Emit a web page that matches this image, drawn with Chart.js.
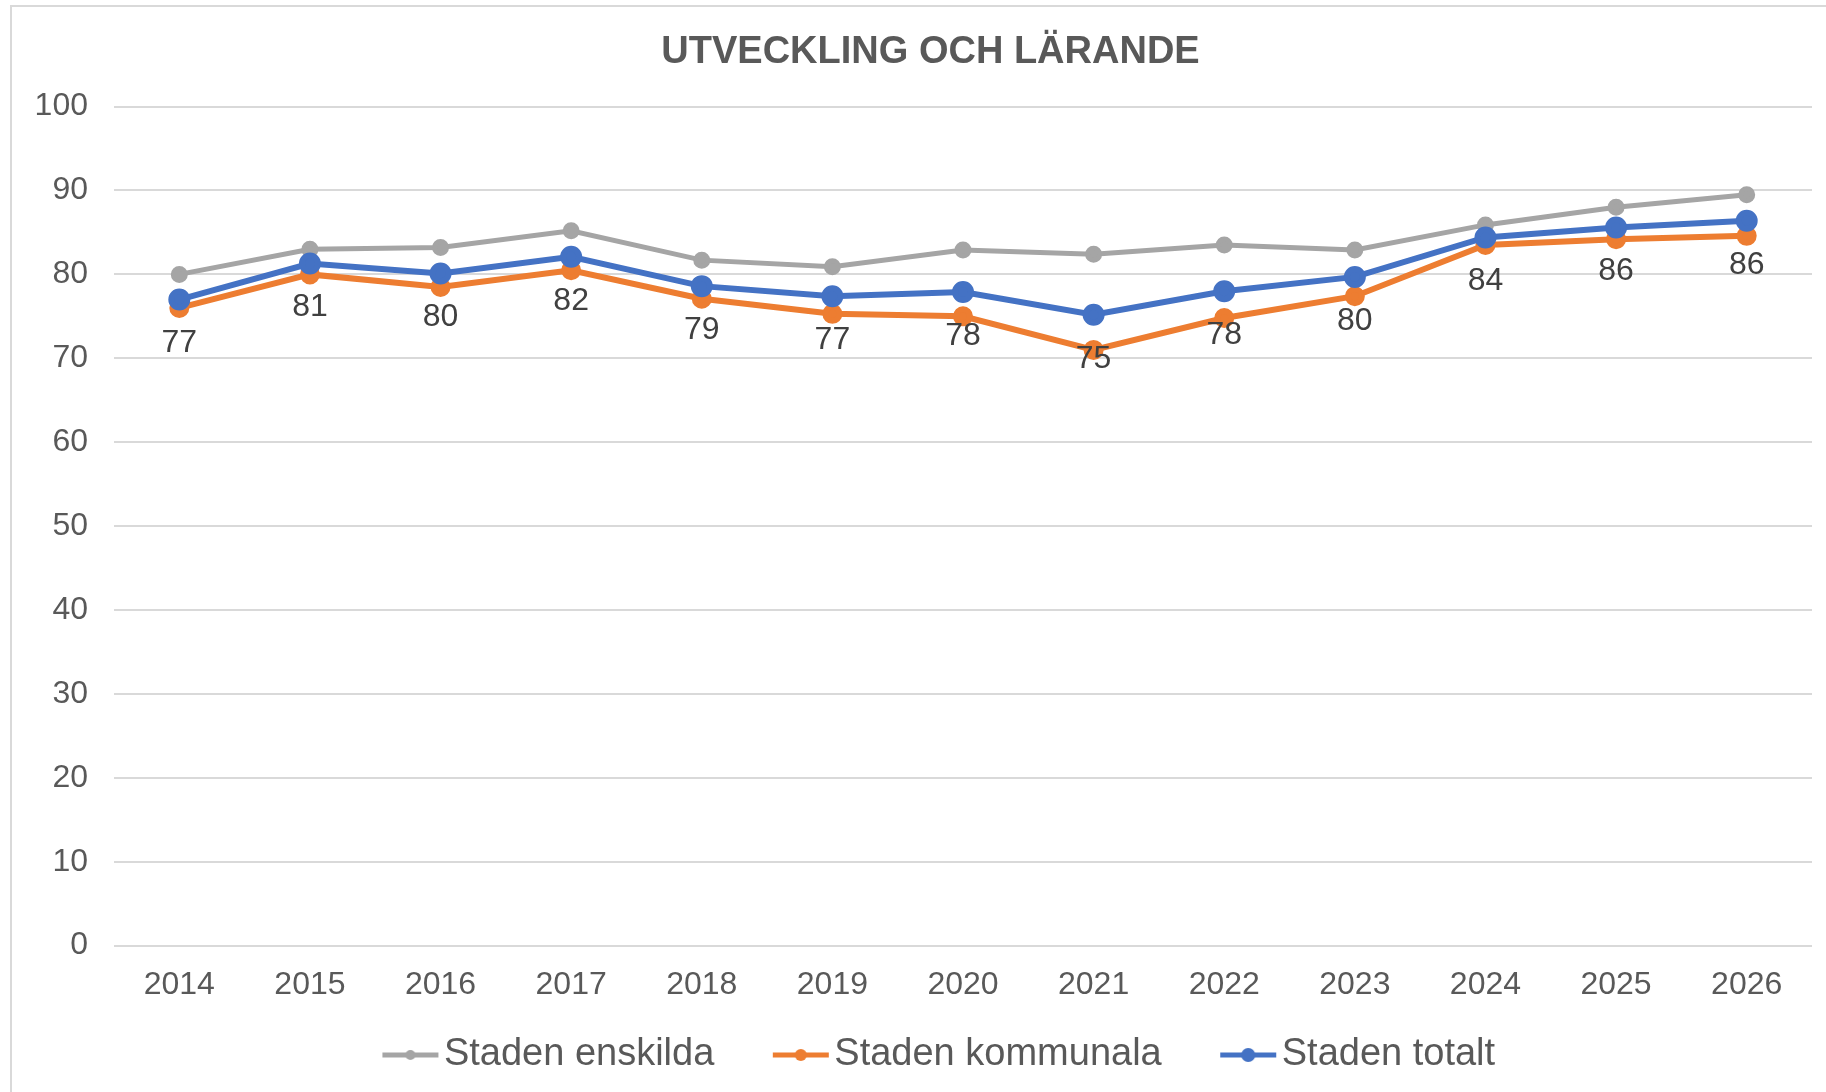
<!DOCTYPE html>
<html>
<head>
<meta charset="utf-8">
<title>Utveckling och lärande</title>
<script src="https://cdn.jsdelivr.net/npm/chart.js@4.4.1/dist/chart.umd.min.js"></script>
<style>
  body { margin:0; background:#fff; overflow:hidden; }
  #frame { position:absolute; left:10px; top:5px; width:1900px; height:1200px;
           border-left:2px solid #d9d9d9; border-top:2px solid #d9d9d9; }
  #chart-line { position:absolute; left:0; top:0; }
</style>
</head>
<body>
<div id="frame"></div>
<canvas id="chart-line" width="1826" height="1092"></canvas>
<script>
/*##########################################################
          Line chart - Utveckling och lärande
##########################################################*/

// Data
var years = ["2014","2015","2016","2017","2018","2019","2020","2021","2022","2023","2024","2025","2026"];
var enskilda   = [80.0, 83.0, 83.2, 85.2, 81.7, 80.9, 82.9, 82.4, 83.5, 82.9, 85.9, 88.0, 89.5];
var kommunala  = [76.0, 80.0, 78.5, 80.5, 77.1, 75.3, 75.0, 71.0, 74.8, 77.4, 83.5, 84.2, 84.6];
var totalt     = [77.0, 81.3, 80.1, 82.1, 78.6, 77.4, 77.9, 75.2, 78.0, 79.7, 84.4, 85.6, 86.4];
var yTicks     = [0, 10, 20, 30, 40, 50, 60, 70, 80, 90, 100];

var textColor = "#595959";
var fontName = "'Liberation Sans', Arial, sans-serif";

// legend marker: line with a dot in the middle (Excel style)
// image is 120 wide, centred on a 89 px legend box -> line sits just left of the text
function legendMarker(col, r){
  var c = document.createElement("canvas");
  c.width = 120; c.height = 20;
  var g = c.getContext("2d");
  g.strokeStyle = col; g.lineWidth = 5;
  g.beginPath(); g.moveTo(62, 10); g.lineTo(118, 10); g.stroke();
  g.fillStyle = col;
  g.beginPath(); g.arc(90, 10, r, 0, Math.PI*2); g.fill();
  return c;
}

// labels under the "Staden totalt" points
var totalLabels = {
  id: "totalLabels",
  afterLayout: function(chart){
    // title sits a bit right of centre in the original
    if (chart.titleBlock) chart.titleBlock.left += 30;
  },
  afterDatasetsDraw: function(chart){
    var meta = chart.getDatasetMeta(2);
    var ctx = chart.ctx;
    ctx.save();
    ctx.fillStyle = "#404040";
    ctx.font = "32px " + fontName;
    ctx.textAlign = "center";
    ctx.textBaseline = "middle";
    meta.data.forEach(function(pt, i){
      ctx.fillText(Math.round(totalt[i]), pt.x, pt.y + 44);
    });
    ctx.restore();
  }
};

var series = [
  { label: "Staden enskilda",  data: enskilda,  color: "#a5a5a5", width: 5, radius: 6, order: 2 },
  { label: "Staden kommunala", data: kommunala, color: "#ed7d31", width: 6, radius: 7, order: 1 },
  { label: "Staden totalt",    data: totalt,    color: "#4472c4", width: 6, radius: 8, order: 0 }
];

var htmlTag = document.getElementById("chart-line");
var configLine = {
  type: "line",
  data: {
    labels: years,
    datasets: series.map(function(s){
      return {
        label: s.label,
        data: s.data,
        borderColor: s.color,
        backgroundColor: s.color,
        borderWidth: s.width,
        pointRadius: s.radius,
        pointHoverRadius: s.radius,
        pointStyle: "circle",
        order: s.order,
        lineTension: 0
      };
    })
  },
  options: {
    responsive: false,
    animation: false,
    layout: { padding: { left: 12, right: 7, top: 4, bottom: 8 } },
    plugins: {
      title: {
        display: true,
        text: "UTVECKLING OCH LÄRANDE",
        color: textColor,
        font: { family: fontName, size: 38, weight: "bold" },
        padding: { top: 26, bottom: 31 }
      },
      legend: {
        position: "bottom",
        labels: {
          usePointStyle: true,
          pointStyleWidth: 89,
          boxHeight: 20,
          padding: 12,
          color: textColor,
          font: { family: fontName, size: 38 },
          generateLabels: function(chart){
            return series.map(function(s, i){
              return {
                text: s.label,
                fontColor: textColor,
                pointStyle: legendMarker(s.color, s.radius - 1),
                lineWidth: 0,
                strokeStyle: "transparent",
                fillStyle: "transparent",
                datasetIndex: i
              };
            });
          }
        }
      },
      tooltip: { enabled: false }
    },
    scales: {
      x: {
        offset: true,
        grid: { display: false, drawTicks: false },
        border: { display: false },
        ticks: { color: textColor, padding: 20, font: { family: fontName, size: 32 }, maxRotation: 0 }
      },
      y: {
        min: 0,
        max: 100,
        afterBuildTicks: function(scale){
          scale.ticks = yTicks.map(function(v){ return { value: v }; });
        },
        afterFit: function(scale){ scale.width = 102; },
        grid: { color: "#d9d9d9", lineWidth: 2, drawTicks: false },
        border: { display: false },
        ticks: { color: textColor, padding: 26, font: { family: fontName, size: 32 } }
      }
    }
  },
  plugins: [totalLabels]
};

var chartLine = new Chart(htmlTag, configLine);
</script>
</body>
</html>
